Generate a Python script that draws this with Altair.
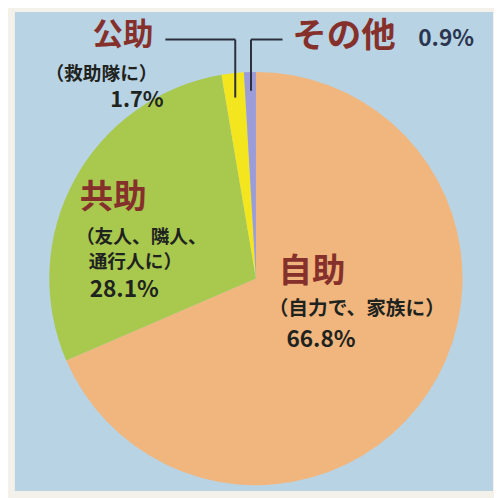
import altair as alt
import pandas as pd

# ---- data ----
categories = ["自助", "共助", "公助", "その他"]
values = [66.8, 28.1, 1.7, 0.9]
slice_order = [1, 2, 3, 4]
slice_colors = ["#f1b67d", "#a9c84e", "#f3e61e", "#9c9cd8"]

titles = ["公助", "その他", "共助", "自助"]
subtitles = ["（救助隊に）", "（友人、隣人、", "通行人に）", "（自力で、家族に）"]
pct_labels = ["1.7%", "0.9%", "28.1%", "66.8%"]

df = pd.DataFrame({"category": categories, "value": values, "order": slice_order})

W, H = 486, 487
CX, CY, R = 245, 271, 210
FONT = "Noto Sans CJK JP"
RED = "#86302c"
DARK = "#1f2320"

pie = alt.Chart(df).mark_arc(outerRadius=R).encode(
    theta=alt.Theta("value:Q", stack=True),
    color=alt.Color("category:N", scale=alt.Scale(domain=categories, range=slice_colors), legend=None),
    order=alt.Order("order:Q"),
    x=alt.value(CX),
    y=alt.value(CY),
)

def label(text, x, y, size, color, weight="bold"):
    return alt.Chart(pd.DataFrame({"t": [text]})).mark_text(
        align="left", baseline="middle", font=FONT, fontSize=size,
        fontWeight=weight, color=color,
    ).encode(text="t:N", x=alt.value(x), y=alt.value(y))

def rule(x1, y1, x2, y2):
    return alt.Chart(pd.DataFrame({"a": [0]})).mark_rule(color="#2a2d3a", strokeWidth=2).encode(
        x=alt.value(x1), y=alt.value(y1), x2=alt.value(x2), y2=alt.value(y2))

layers = [pie,
          rule(153, 28, 224, 28), rule(224, 28, 224, 87),
          rule(240, 28, 272, 28), rule(240, 28, 240, 80),
          label(titles[0], 79, 25, 31, RED),
          label(titles[1], 282, 25, 35, RED),
          label(pct_labels[1], 410, 28, 23, "#2b3550"),
          label(subtitles[0], 31, 63, 19, DARK),
          label(pct_labels[0], 97, 90, 22, DARK),
          label(titles[2], 66, 189, 34, RED),
          label(subtitles[1], 62, 229, 19, DARK),
          label(subtitles[2], 75, 254, 19, DARK),
          label(pct_labels[2], 76, 283, 23, DARK),
          label(titles[3], 268, 264, 34, RED),
          label(subtitles[3], 258, 302, 20, DARK),
          label(pct_labels[3], 276, 334, 23, DARK),
          ]

chart = alt.layer(*layers).properties(
    width=W, height=H, background="#f3f1ea",
    padding={"left": 7, "top": 0, "right": 1, "bottom": 3},
    autosize=alt.AutoSizeParams(type="none"),
).configure_view(fill="#b8d3e3", stroke=None)

chart.save("out.html", embed_options={"renderer": "svg", "actions": False})
